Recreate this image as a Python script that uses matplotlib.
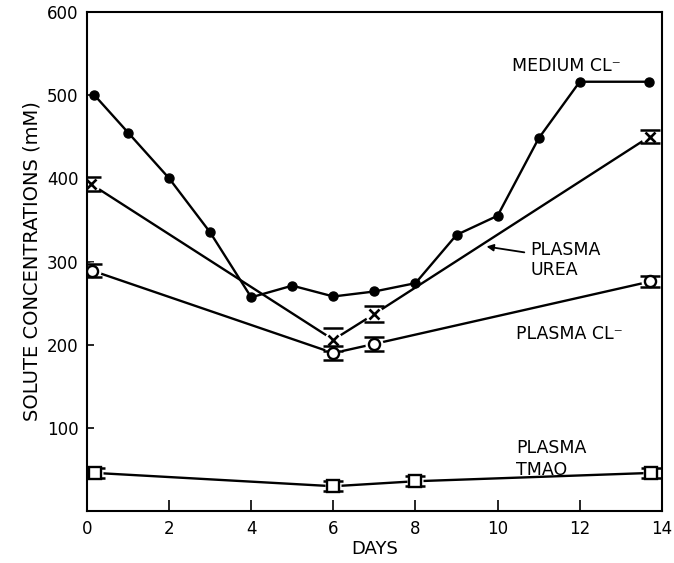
import matplotlib
matplotlib.use("Agg")
import matplotlib.pyplot as plt

# ---- data ----
medium_days = [0.18, 1, 2, 3, 4, 5, 6, 7, 8, 9, 10, 11, 12, 13.68]
medium_cl = [500, 455, 400, 335, 257, 271, 258, 264, 274, 332, 355, 448, 516, 516]

urea_days = [0.1, 6, 7, 13.7]
urea = [393, 206, 237, 450]
urea_err = [8, 14, 10, 8]

pcl_days = [0.13, 6, 7, 13.72]
pcl = [289, 190, 201, 276]
pcl_err = [8, 8, 8, 7]

tmao_days = [0.2, 6, 8, 13.74]
tmao = [46, 30, 36, 46]
tmao_err = [6, 6, 6, 6]

xticks = [0, 2, 4, 6, 8, 10, 12, 14]
yticks = [100, 200, 300, 400, 500, 600]

plt.rcParams['font.family'] = ['DejaVu Sans']

fig = plt.figure(figsize=(6.74, 5.63), dpi=100)
ax = fig.add_axes([0.129, 0.092, 0.853, 0.887])

lw = 1.7
# medium Cl
ax.plot(medium_days, medium_cl, color='black', lw=lw, marker='o', ms=6.5,
        mfc='black', mec='black', zorder=3)

# plasma urea
ax.plot(urea_days, urea, color='black', lw=lw, zorder=2)
ax.plot(urea_days, urea, ls='none', marker='o', ms=13, mfc='white', mec='none', zorder=3)
ax.errorbar(urea_days, urea, yerr=urea_err, fmt='none', ecolor='black',
            elinewidth=0, capsize=7, capthick=1.8, zorder=4)
ax.plot(urea_days, urea, ls='none', marker='x', ms=7, mew=1.9, color='black', zorder=5)

# plasma Cl
ax.plot(pcl_days, pcl, color='black', lw=lw, zorder=2)
ax.plot(pcl_days, pcl, ls='none', marker='o', ms=13, mfc='white', mec='none', zorder=3)
ax.errorbar(pcl_days, pcl, yerr=pcl_err, fmt='none', ecolor='black',
            elinewidth=0, capsize=7, capthick=1.8, zorder=4)
ax.plot(pcl_days, pcl, ls='none', marker='o', ms=8, mfc='white', mec='black', mew=1.7, zorder=5)

# plasma TMAO
ax.plot(tmao_days, tmao, color='black', lw=lw, zorder=2)
ax.plot(tmao_days, tmao, ls='none', marker='s', ms=12, mfc='white', mec='none', zorder=3)
ax.errorbar(tmao_days, tmao, yerr=tmao_err, fmt='none', ecolor='black',
            elinewidth=0, capsize=7, capthick=1.8, zorder=4)
ax.plot(tmao_days, tmao, ls='none', marker='s', ms=8, mfc='white', mec='black', mew=1.7, zorder=5)

# labels
tkw = dict(fontsize=12.5, color='black')
ax.text(10.35, 535, 'MEDIUM CL⁻', ha='left', va='center', **tkw)
ax.text(10.8, 314, 'PLASMA', ha='left', va='center', **tkw)
ax.text(10.8, 290, 'UREA', ha='left', va='center', **tkw)
ax.text(10.45, 213, 'PLASMA CL⁻', ha='left', va='center', **tkw)
ax.text(10.45, 76, 'PLASMA', ha='left', va='center', **tkw)
ax.text(10.45, 50, 'TMAO', ha='left', va='center', **tkw)
ax.annotate('', xy=(9.73, 318), xytext=(10.65, 311),
            arrowprops=dict(arrowstyle='-|>', color='black', lw=1.3,
                            mutation_scale=10, shrinkA=0, shrinkB=0))

ax.set_xlim(0, 14)
ax.set_ylim(0, 600)
ax.set_xticks(xticks)
ax.set_xticklabels([str(t) for t in xticks])
ax.set_yticks(yticks)
ax.set_yticklabels([str(t) for t in yticks])
ax.tick_params(axis='x', direction='in', length=8, width=1.2, labelsize=12, pad=6)
ax.tick_params(axis='y', direction='in', length=5, width=1.2, labelsize=12, pad=6)
for s in ax.spines.values():
    s.set_linewidth(1.5)
    s.set_zorder(6)

ax.set_xlabel('DAYS', fontsize=13, labelpad=2)
ax.set_ylabel('SOLUTE CONCENTRATIONS (mM)', fontsize=14, labelpad=4)

fig.savefig('out.png', dpi=100)
